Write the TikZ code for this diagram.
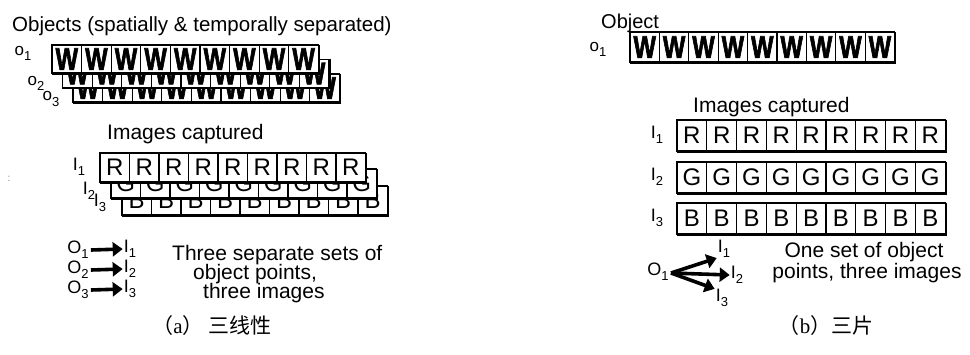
\documentclass[tikz,border=0pt]{standalone}
\usepackage{fontspec}
\usepackage{graphicx}
\setmainfont{Liberation Sans}
\newfontfamily\cjk{Noto Sans CJK SC}
\newfontfamily\serif{Liberation Serif}
\newfontfamily\wfont[FakeBold=2.5]{Liberation Sans Bold}
\usetikzlibrary{arrows.meta}
\newcommand\fs[1]{\fontsize{#1}{#1}\selectfont}
\newcommand\sbs[1]{\raisebox{-0.3em}{\fs{13}#1}}
\newcommand\cellrow[5]{%
  \fill[white] (#1,#2) rectangle ++({9*#3},#4);
  \foreach \i in {0,...,8}{
    \node[inner sep=0] at ({#1+(\i+0.5)*#3},{#2+0.5*#4}) {#5};
  }
  \foreach \i in {1,...,8}{
    \draw[line width=1.2pt] ({#1+\i*#3},#2) -- ++(0,#4);
  }
  \draw[line width=1.4pt] (#1,#2) rectangle ++({9*#3},#4);
  \draw[line width=2.4pt] ({#1-0.5},{#2+#4+0.5}) -- ++({9*#3+1},0) -- ++(0,{-#4-1});
}
\newcommand\Wl{{\wfont\fs{25}\scalebox{0.95}[1.25]{W}}}
\begin{document}
\begin{tikzpicture}[x=1pt,y=-1pt,
  lbl/.style={inner sep=0,font=\fs{18}},
  txt/.style={inner sep=0,anchor=base west,font=\fs{21}},
  oi/.style={line width=3.6pt,-{Triangle[length=10pt,width=14pt]}}]
\useasboundingbox (0,0) rectangle (970,354);
% ---------- left panel ----------
\node[txt,font=\fs{20.5}] (title) at (12,31) {Objects (spatially \& temporally separated)};
\cellrow{73}{74}{29.6}{28}{\Wl}
\cellrow{62.5}{59.5}{29.6}{28}{\Wl}
\cellrow{52}{45}{29.6}{28}{\Wl}
\node[lbl,font=\fs{17}] (o1) at (23,53) {o\sbs{1}};
\node[lbl,font=\fs{17}] (o2) at (36,83) {o\sbs{2}};
\node[lbl,font=\fs{17}] (o3) at (51,99) {o\sbs{3}};
\node[txt] (capl) at (107,139) {Images captured};
\cellrow{122}{186}{29.5}{29}{{\fs{24}B}}
\cellrow{111}{169}{29.5}{29}{{\fs{24}G}}
\cellrow{100}{153}{29.5}{29}{{\fs{24}R}}
\node[lbl] (i1) at (79,167) {I\sbs{1}};
\node[lbl] (i2) at (89,191) {I\sbs{2}};
\node[lbl] (i3) at (100,203) {I\sbs{3}};
\node[inner sep=0,font=\fs{10},text=gray] (dot) at (9,179) {:};
\node[lbl] (O1) at (78,250) {O\sbs{1}};
\node[lbl] (O2) at (78,270) {O\sbs{2}};
\node[lbl] (O3) at (78,290) {O\sbs{3}};
\node[lbl] (I1) at (130,249) {I\sbs{1}};
\node[lbl] (I2) at (130,269) {I\sbs{2}};
\node[lbl] (I3) at (130,289) {I\sbs{3}};
\draw[oi] ([xshift=2pt]O1.east) -- ([xshift=-1pt]I1.west);
\draw[oi] ([xshift=2pt]O2.east) -- ([xshift=-1pt]I2.west);
\draw[oi] ([xshift=2pt]O3.east) -- ([xshift=-1pt]I3.west);
\node[txt] (t1) at (172,260) {Three separate sets of};
\node[txt] (t2) at (193,279) {object points,};
\node[txt] (t3) at (203,298) {three images};
\node[inner sep=0,anchor=base,font=\fs{21}] (capa) at (212,333) {\cjk（{\serif a}）\ 三线性};
% ---------- right panel ----------
\node[txt,font=\fs{20}] (obj) at (601,28) {Object};
\cellrow{630}{32}{29.4}{30}{\Wl}
\node[lbl,font=\fs{17}] (ro1) at (598,49) {o\sbs{1}};
\node[txt] (capr) at (693,112) {Images captured};
\cellrow{677}{120}{29.8}{31}{{\fs{24}R}}
\cellrow{677}{162}{29.8}{31}{{\fs{24}G}}
\cellrow{677}{203}{29.8}{31}{{\fs{24}B}}
\node[lbl] (ri1) at (657,135) {I\sbs{1}};
\node[lbl] (ri2) at (657,177) {I\sbs{2}};
\node[lbl] (ri3) at (657,218) {I\sbs{3}};
\node[lbl] (RO1) at (658,272) {O\sbs{1}};
\coordinate (hub) at (671,273);
\node[lbl] (RI1) at (724,249) {I\sbs{1}};
\node[lbl] (RI2) at (737,275) {I\sbs{2}};
\node[lbl] (RI3) at (722,298) {I\sbs{3}};
\draw[oi] (hub) -- ([xshift=-1pt]RI1.south west);
\draw[oi] (hub) -- ([xshift=-1pt]RI2.west);
\draw[oi] (hub) -- ([xshift=-1pt]RI3.north west);
\node[inner sep=0,anchor=base,font=\fs{21}] (r1) at (864,257) {One set of object};
\node[inner sep=0,anchor=base,font=\fs{21}] (r2) at (867,278) {points, three images};
\node[inner sep=0,anchor=base,font=\fs{21}] (capb) at (826,333) {\cjk（{\serif b}）三片};
\end{tikzpicture}
\end{document}
